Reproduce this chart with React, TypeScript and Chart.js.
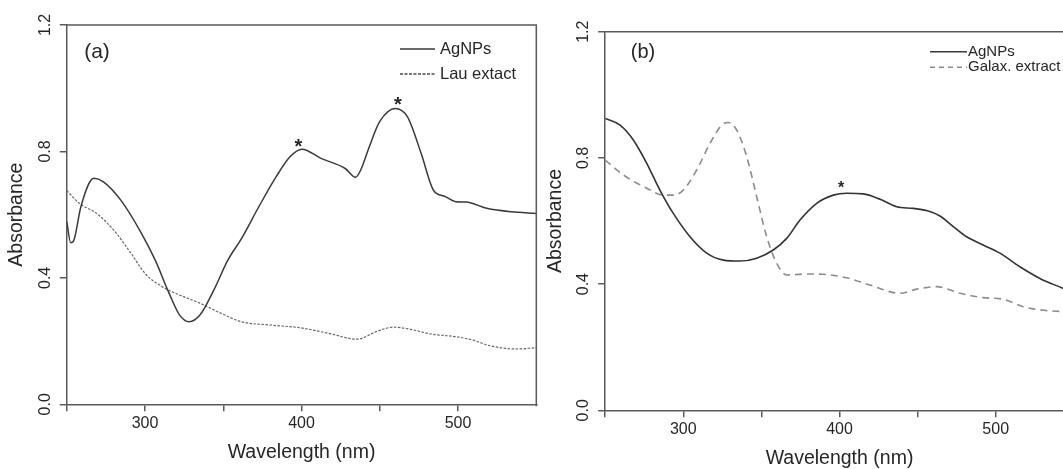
import React, { useEffect, useRef } from 'react';
import { Chart, registerables } from 'chart.js';

Chart.register(...registerables);

// ---------- DATA ----------
// Panel (a)
const aAgNPsWavelength = [250, 252.5, 254.6, 259, 267.3, 273.4, 284.5, 297.7, 306.5, 315.4, 322, 328.2, 335.2, 344, 352.9, 361.7, 372.7, 383.8, 392.6, 400.3, 412.4, 427.9, 434.5, 437.8, 443.3, 449.9, 459.9, 467.6, 476.4, 484.2, 491.9, 498.5, 505.1, 518.3, 533.8, 550];
const aAgNPsAbsorbance = [0.578, 0.511, 0.52, 0.625, 0.715, 0.704, 0.646, 0.541, 0.456, 0.351, 0.283, 0.261, 0.283, 0.362, 0.456, 0.525, 0.625, 0.72, 0.783, 0.807, 0.778, 0.746, 0.718, 0.741, 0.815, 0.894, 0.936, 0.91, 0.794, 0.678, 0.657, 0.641, 0.64, 0.62, 0.609, 0.604];
const aLauWavelength = [250, 258, 269, 280, 291, 300, 311, 322, 335, 348.5, 361.7, 379.4, 399.2, 416.9, 435.6, 447.8, 458.8, 469.8, 483, 498.5, 509.5, 520.6, 538.2, 550];
const aLauAbsorbance = [0.676, 0.636, 0.604, 0.551, 0.478, 0.414, 0.372, 0.346, 0.32, 0.288, 0.261, 0.251, 0.242, 0.225, 0.206, 0.23, 0.244, 0.237, 0.222, 0.214, 0.203, 0.185, 0.175, 0.179];
const aStars = [[398, 0.831], [461.6, 0.963]];

// Panel (b)
const bAgNPsWavelength = [250, 259.5, 268, 276.6, 285, 293.6, 304.3, 315, 325.6, 336.3, 347, 357.6, 366.2, 374.7, 385.4, 396, 404.6, 415.2, 426, 436.6, 447.3, 455.8, 464.3, 472.9, 481.4, 492, 502.7, 515.5, 528.3, 542.9, 550];
const bAgNPsAbsorbance = [0.925, 0.904, 0.857, 0.783, 0.698, 0.624, 0.55, 0.498, 0.476, 0.473, 0.482, 0.508, 0.545, 0.603, 0.656, 0.682, 0.688, 0.686, 0.669, 0.645, 0.64, 0.633, 0.616, 0.582, 0.55, 0.524, 0.498, 0.455, 0.418, 0.387, 0.372];
const bGalaxWavelength = [250, 261.6, 276.6, 287.2, 293.6, 300, 308.6, 317.1, 324.6, 328.8, 334.2, 340.6, 347, 353.4, 359.8, 366.2, 379, 389.6, 404.6, 419.5, 438.7, 449.4, 462.2, 477.1, 492, 504.9, 517.7, 532.6, 542.9, 550];
const bGalaxAbsorbance = [0.793, 0.746, 0.704, 0.682, 0.682, 0.698, 0.762, 0.846, 0.904, 0.912, 0.888, 0.804, 0.677, 0.55, 0.466, 0.429, 0.432, 0.431, 0.42, 0.397, 0.371, 0.384, 0.392, 0.371, 0.357, 0.352, 0.328, 0.316, 0.313, 0.31];
const bStars = [[401, 0.717]];

// Axes
const xTickLabels = [300, 400, 500];
const yTickValues = [0, 0.4, 0.8, 1.2];
const yTickLabels = ['0.0', '0.4', '0.8', '1.2'];
const xTitle = 'Wavelength (nm)';
const yTitle = 'Absorbance';

// ---------- STYLE ----------
const FONT = '"Liberation Sans", Arial, sans-serif';
const AXIS = '#5a5a5a';
const TEXT = '#262626';

const zip = (xs: number[], ys: number[]) => xs.map((x, i) => ({ x, y: ys[i] }));

type Legend = { label: string; color: string; dash: number[]; width: number };
type PanelCfg = {
  left: number;
  width: number;
  padding: { left: number; right: number; top: number; bottom: number };
  tag: string;
  tagPos: [number, number];
  tagSize: number;
  legends: Legend[];
  legendLine: [number, number];
  legendTextX: number;
  legendY: number[];
  legendSize: number;
  stars: number[][];
  starSize: number;
  datasets: any[];
};

const panels: PanelCfg[] = [
  {
    left: 0,
    width: 545,
    padding: { left: 59.8, right: 8.7, top: 25, bottom: 34.7 },
    tag: '(a)',
    tagPos: [97, 52],
    tagSize: 21,
    legends: [
      { label: 'AgNPs', color: '#3a3a3a', dash: [], width: 1.5 },
      { label: 'Lau extact', color: '#4a4a4a', dash: [3, 1.5], width: 1.5 },
    ],
    legendLine: [400, 435],
    legendTextX: 440,
    legendY: [49, 74],
    legendSize: 16.5,
    stars: aStars,
    starSize: 20,
    datasets: [
      { label: 'AgNPs', data: zip(aAgNPsWavelength, aAgNPsAbsorbance), borderColor: '#3a3a3a', borderWidth: 1.5, pointRadius: 0, cubicInterpolationMode: 'monotone' },
      { label: 'Lau extact', data: zip(aLauWavelength, aLauAbsorbance), borderColor: '#666666', borderWidth: 1.2, borderDash: [2.5, 1.5], pointRadius: 0, cubicInterpolationMode: 'monotone' },
    ],
  },
  {
    left: 540,
    width: 560,
    padding: { left: 58.2, right: 26.2, top: 31.7, bottom: 28.7 },
    tag: '(b)',
    tagPos: [103, 52],
    tagSize: 20,
    legends: [
      { label: 'AgNPs', color: '#3a3a3a', dash: [], width: 1.5 },
      { label: 'Galax. extract', color: '#8a8a8a', dash: [5, 4], width: 1.5 },
    ],
    legendLine: [390, 427],
    legendTextX: 428,
    legendY: [51.7, 67.3],
    legendSize: 15,
    stars: bStars,
    starSize: 16,
    datasets: [
      { label: 'AgNPs', data: zip(bAgNPsWavelength, bAgNPsAbsorbance), borderColor: '#333333', borderWidth: 1.6, pointRadius: 0, cubicInterpolationMode: 'monotone' },
      { label: 'Galax. extract', data: zip(bGalaxWavelength, bGalaxAbsorbance), borderColor: '#8c8c8c', borderWidth: 1.6, borderDash: [7, 5], pointRadius: 0, cubicInterpolationMode: 'monotone' },
    ],
  },
];

function makeDecor(p: PanelCfg) {
  return {
    id: 'decor',
    afterDraw(chart: any) {
      const { ctx, chartArea: ca, scales } = chart;
      const x = scales.x;
      const y = scales.y;
      ctx.save();
      // frame top/right
      ctx.strokeStyle = AXIS;
      ctx.lineWidth = 1.5;
      ctx.beginPath();
      ctx.moveTo(ca.left, ca.top);
      ctx.lineTo(ca.right, ca.top);
      ctx.lineTo(ca.right, ca.bottom + 2);
      ctx.stroke();

      ctx.fillStyle = TEXT;
      // y tick labels (rotated)
      ctx.font = `16px ${FONT}`;
      yTickValues.forEach((v, i) => {
        const py = y.getPixelForValue(v);
        ctx.save();
        ctx.translate(ca.left - 21.5, py);
        ctx.rotate(-Math.PI / 2);
        ctx.textAlign = 'center';
        ctx.textBaseline = 'middle';
        ctx.fillText(yTickLabels[i], 0, 0);
        ctx.restore();
      });
      // y title
      ctx.save();
      ctx.font = `19.5px ${FONT}`;
      ctx.translate(ca.left - 50, (ca.top + ca.bottom) / 2);
      ctx.rotate(-Math.PI / 2);
      ctx.textAlign = 'center';
      ctx.textBaseline = 'middle';
      ctx.fillText(yTitle, 0, 0);
      ctx.restore();
      // x title
      ctx.font = `19.5px ${FONT}`;
      ctx.textAlign = 'center';
      ctx.textBaseline = 'middle';
      ctx.fillText(xTitle, (ca.left + ca.right) / 2, ca.bottom + 48);
      // panel tag
      ctx.font = `${p.tagSize}px ${FONT}`;
      ctx.fillText(p.tag, p.tagPos[0], p.tagPos[1]);
      // legend
      p.legends.forEach((l, i) => {
        const ly = p.legendY[i];
        ctx.save();
        ctx.strokeStyle = l.color;
        ctx.lineWidth = l.width;
        ctx.setLineDash(l.dash);
        ctx.beginPath();
        ctx.moveTo(p.legendLine[0], ly);
        ctx.lineTo(p.legendLine[1], ly);
        ctx.stroke();
        ctx.restore();
        ctx.font = `${p.legendSize}px ${FONT}`;
        ctx.textAlign = 'left';
        ctx.textBaseline = 'middle';
        ctx.fillText(l.label, p.legendTextX, ly);
      });
      // stars
      ctx.font = `bold ${p.starSize}px ${FONT}`;
      ctx.textAlign = 'center';
      ctx.textBaseline = 'alphabetic';
      p.stars.forEach(([sx, sy]) => {
        const px = x.getPixelForValue(sx);
        const py = y.getPixelForValue(sy);
        ctx.fillText('*', px, py + p.starSize * 0.575);
      });
      ctx.restore();
    },
  };
}

function Panel({ p }: { p: PanelCfg }) {
  const ref = useRef<HTMLCanvasElement | null>(null);
  useEffect(() => {
    if (!ref.current) return;
    const chart = new Chart(ref.current, {
      type: 'line',
      data: { datasets: p.datasets },
      options: {
        animation: false,
        responsive: false,
        devicePixelRatio: 1,
        layout: { padding: p.padding },
        plugins: { legend: { display: false }, tooltip: { enabled: false } },
        elements: { line: { tension: 0.4 } },
        scales: {
          x: {
            type: 'linear',
            min: 250,
            max: 550,
            afterFit: (s: any) => { s.height = 30; },
            ticks: {
              stepSize: 50,
              autoSkip: false,
              maxRotation: 0,
              padding: 3,
              color: TEXT,
              font: { family: FONT, size: 16 },
              callback: (v: any) => (xTickLabels.includes(Number(v)) ? String(v) : ''),
            },
            grid: {
              drawOnChartArea: false,
              drawTicks: true,
              tickLength: 7,
              color: (c: any) => (c.tick && c.tick.value === 550 ? 'rgba(0,0,0,0)' : AXIS),
              lineWidth: 1.5,
            },
            border: { display: true, color: AXIS, width: 1.5 },
          },
          y: {
            type: 'linear',
            min: 0,
            max: 1.2,
            afterFit: (s: any) => { s.width = 7; },
            ticks: { stepSize: 0.4, display: false },
            grid: { drawOnChartArea: false, drawTicks: true, tickLength: 7, color: AXIS, lineWidth: 1.5 },
            border: { display: true, color: AXIS, width: 1.5 },
          },
        },
      },
      plugins: [makeDecor(p)],
    } as any);
    return () => chart.destroy();
  }, [p]);
  return (
    <canvas
      ref={ref}
      width={p.width}
      height={469}
      style={{ position: 'absolute', left: p.left, top: 0, width: p.width, height: 469 }}
    />
  );
}

export default function App() {
  return (
    <div
      style={{
        position: 'fixed',
        left: 0,
        top: 0,
        width: 1063,
        height: 469,
        overflow: 'hidden',
        background: '#ffffff',
      }}
    >
      {panels.map((p) => (
        <Panel key={p.tag} p={p} />
      ))}
    </div>
  );
}
